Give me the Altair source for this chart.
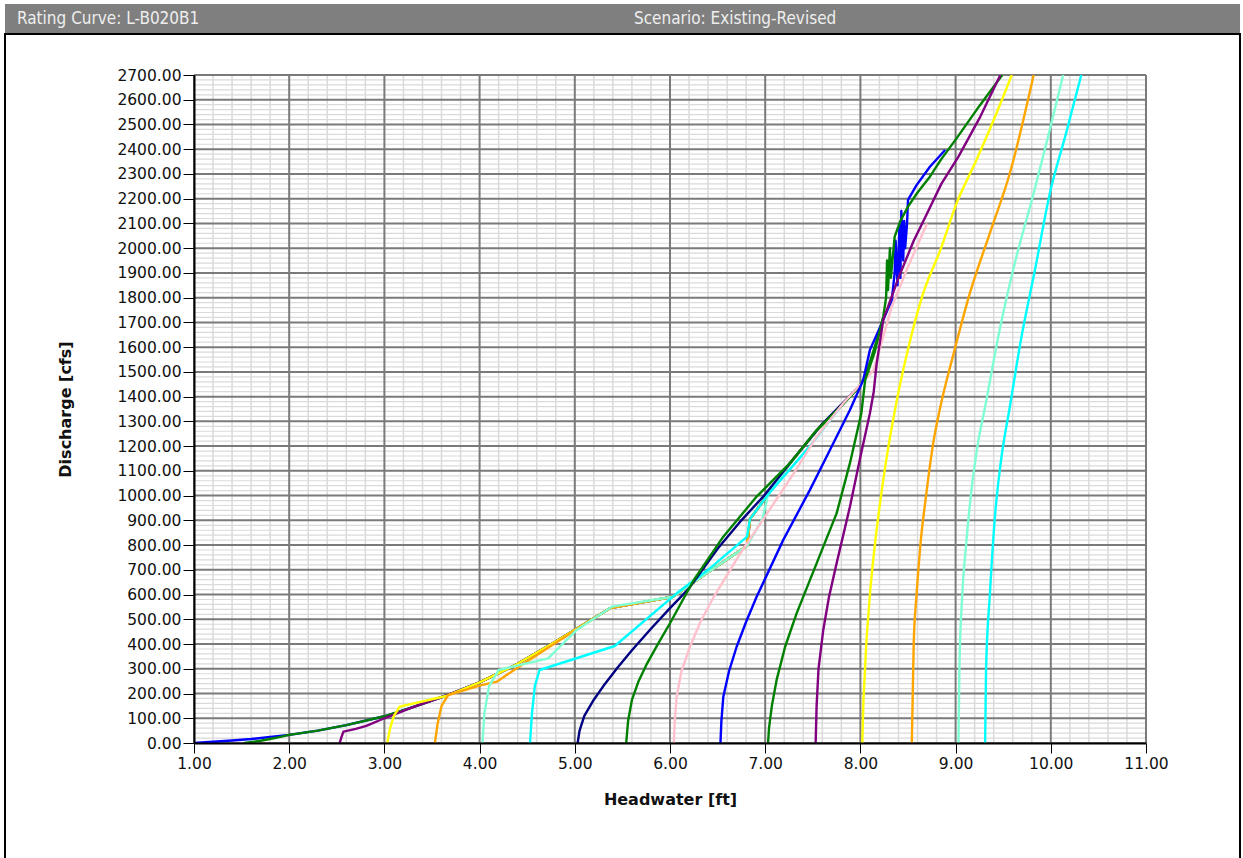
import altair as alt
import pandas as pd

# ---------------- data ----------------
tailwater = [1.00, 1.53, 2.53, 3.03, 3.53, 4.03, 4.53, 5.03, 5.53, 6.03,
             6.53, 7.03, 7.53, 8.03, 8.53, 9.03, 9.30]
line_colors = ["#0000FF", "#008000", "#800080", "#FFFF00", "#FFA500", "#7FFFD4",
               "#00FFFF", "#000080", "#008000", "#FFC0CB", "#0000FF", "#008000",
               "#800080", "#FFFF00", "#FFA500", "#7FFFD4", "#00FFFF"]

hw_01 = [1.00, 1.20, 1.40, 1.60, 1.80, 2.00, 2.30, 2.60, 3.00, 3.30, 3.65, 4.00, 4.40, 4.80, 5.37,
         6.03, 6.40, 6.81, 6.84, 7.02, 7.26, 7.54, 7.79, 7.96]
q_01 = [0, 5, 10, 16, 24, 33, 50, 72, 108, 145, 192, 245, 320, 410, 545,
        591, 690, 797, 905, 1000, 1131, 1262, 1359, 1430]

hw_02 = [1.53, 1.70, 1.85, 2.00, 2.30, 2.60, 3.00, 3.30, 3.65, 4.00, 4.40, 4.80, 5.37,
         6.03, 6.40, 6.81, 6.84, 7.02, 7.26, 7.54, 7.79, 7.96]
q_02 = [0, 9, 20, 33, 50, 72, 108, 145, 192, 245, 320, 410, 545,
        591, 690, 797, 905, 1000, 1131, 1262, 1359, 1430]

hw_03 = [2.53, 2.55, 2.57, 2.70, 2.81, 3.00, 3.20, 3.30, 3.65, 4.00, 4.40, 4.80, 5.37,
         6.03, 6.40, 6.81, 6.84, 7.02, 7.26, 7.54, 7.79, 7.96]
q_03 = [0, 25, 46, 57, 69, 100, 130, 145, 192, 245, 320, 410, 545,
        591, 690, 797, 905, 1000, 1131, 1262, 1359, 1430]

hw_04 = [3.03, 3.06, 3.10, 3.16, 3.65, 4.00, 4.40, 4.80, 5.37,
         6.03, 6.40, 6.81, 6.84, 7.02, 7.26, 7.54, 7.79, 7.96]
q_04 = [0, 60, 110, 147, 190, 245, 320, 410, 545,
        591, 690, 797, 905, 1000, 1131, 1262, 1359, 1430]

hw_05 = [3.53, 3.56, 3.60, 3.67, 4.00, 4.18, 4.39, 4.80, 5.37,
         6.03, 6.40, 6.81, 6.84, 7.02, 7.26, 7.54, 7.79, 7.96]
q_05 = [0, 80, 150, 194, 232, 248, 302, 405, 545,
        591, 690, 797, 905, 1000, 1131, 1262, 1359, 1430]

hw_06 = [4.03, 4.05, 4.10, 4.20, 4.72, 5.02, 5.39, 6.03, 6.40, 6.81, 6.97, 7.03,
         7.26, 7.54, 7.79, 7.96]
q_06 = [0, 120, 230, 295, 342, 457, 551, 591, 690, 797, 905, 1002,
        1131, 1262, 1359, 1430]

hw_07 = [4.53, 4.55, 4.58, 4.63, 5.42, 6.07, 6.40, 6.81, 6.84, 7.02, 7.47, 7.79, 7.96]
q_07 = [0, 120, 230, 295, 392, 605, 700, 834, 905, 1000, 1200, 1359, 1430]

hw_08 = [5.03, 5.05, 5.10, 5.20, 5.30, 5.45, 5.60, 5.80, 6.00, 6.20, 6.50, 6.75, 7.00, 7.30,
         7.60, 7.96]
q_08 = [0, 50, 110, 175, 230, 305, 375, 462, 545, 625, 785, 900, 1005, 1150,
        1290, 1430]

hw_09 = [5.54, 5.56, 5.60, 5.67, 5.76, 5.88, 6.00, 6.25, 6.56, 6.91, 7.26, 7.54, 7.79, 7.96,
         8.05, 8.15, 8.24]
q_09 = [0, 90, 174, 250, 322, 405, 484, 659, 834, 996, 1131, 1265, 1359, 1427,
        1480, 1600, 1720]

hw_10 = [6.04, 6.05, 6.07, 6.12, 6.21, 6.32, 6.46, 6.74, 7.02, 7.30, 7.54, 7.82, 8.14, 8.33,
         8.50, 8.70]
q_10 = [0, 90, 187, 290, 389, 490, 591, 767, 928, 1090, 1238, 1373, 1508, 1764,
        1925, 2100]

hw_11 = [6.53, 6.54, 6.56, 6.62, 6.70, 6.80, 6.91, 7.19, 7.47, 7.68, 7.89, 8.03, 8.10, 8.21,
         8.33, 8.36, 8.37, 8.39, 8.41, 8.42, 8.43, 8.45, 8.46, 8.47, 8.49, 8.50, 8.59, 8.73,
         8.89]
q_11 = [0, 90, 187, 290, 389, 490, 591, 821, 1023, 1184, 1346, 1467, 1589, 1683,
        1791, 1900, 2030, 1850, 2090, 1880, 2150, 1950, 2110, 2000, 2100, 2195, 2255, 2329,
        2397]

hw_12 = [7.03, 7.04, 7.07, 7.12, 7.21, 7.33, 7.54, 7.75, 7.89, 8.01, 8.05, 8.15, 8.24, 8.27,
         8.28, 8.29, 8.31, 8.32, 8.36, 8.42, 8.50, 8.60, 8.73, 8.85, 9.01, 9.25, 9.49]
q_12 = [0, 60, 150, 255, 390, 524, 726, 928, 1131, 1333, 1467, 1580, 1723, 1800,
        1950, 1830, 2000, 1880, 2047, 2110, 2168, 2225, 2289, 2360, 2444, 2575, 2700]

hw_13 = [7.53, 7.54, 7.56, 7.61, 7.67, 7.75, 7.89, 8.00, 8.10, 8.14, 8.17, 8.24, 8.40, 8.56,
         8.70, 8.85, 9.03, 9.26, 9.47]
q_13 = [0, 150, 300, 457, 590, 726, 955, 1157, 1333, 1420, 1530, 1710, 1880, 2030,
        2140, 2260, 2370, 2532, 2700]

hw_14 = [8.02, 8.03, 8.045, 8.06, 8.08, 8.10, 8.15, 8.24, 8.38, 8.49, 8.66, 8.84, 9.01, 9.22,
         9.40, 9.59]
q_14 = [0, 150, 270, 389, 500, 600, 794, 1063, 1380, 1575, 1818, 1993, 2181, 2357,
        2518, 2700]

hw_15 = [8.54, 8.55, 8.56, 8.59, 8.63, 8.69, 8.76, 8.84, 8.98, 9.15, 9.36, 9.57, 9.82]
q_15 = [0, 200, 400, 600, 800, 1000, 1200, 1359, 1575, 1818, 2061, 2303, 2700]

hw_16 = [9.03, 9.04, 9.07, 9.11, 9.16, 9.23, 9.31, 9.47, 9.63, 9.82, 9.98, 10.13]
q_16 = [0, 300, 600, 800, 1000, 1200, 1359, 1683, 1952, 2222, 2464, 2700]

hw_17 = [9.31, 9.32, 9.36, 9.41, 9.48, 9.57, 9.68, 9.84, 9.99, 10.16, 10.32]
q_17 = [0, 300, 600, 900, 1150, 1359, 1616, 1925, 2222, 2464, 2700]

x_ticks = [1, 2, 3, 4, 5, 6, 7, 8, 9, 10, 11]
y_ticks = list(range(0, 2701, 100))
x_minor = [round(1 + 0.2 * i, 1) for i in range(51) if i % 5]
y_minor = [v for v in range(0, 2701, 20) if v % 100]

header_left = "Rating Curve: L-B020B1"
header_right = "Scenario: Existing-Revised"

# ---------------- chart ----------------
W, H = 952, 668
PAD_L, PAD_T = 194, 75
FONT = "DejaVu Sans"
HEAD_FONT = "DejaVu Sans Condensed, Liberation Sans, sans-serif"

xs = alt.Scale(domain=[1, 11], nice=False, zero=False)
ys = alt.Scale(domain=[0, 2700], nice=False, zero=False)

x_axis = alt.Axis(values=x_ticks, format=".2f", title="Headwater [ft]", grid=False,
                  domainColor="black", domainWidth=2, tickColor="black", tickSize=10,
                  labelFont=FONT, labelFontSize=15.5, labelColor="#111111", labelPadding=3,
                  titleFont=FONT, titleFontSize=16, titleFontWeight="bold",
                  titleColor="#111111", titlePadding=20, zindex=1, labelFlush=False)
y_axis = alt.Axis(values=y_ticks, format=".2f", title="Discharge [cfs]", grid=False,
                  domainColor="black", domainWidth=2, tickColor="black", tickSize=11,
                  labelFont=FONT, labelFontSize=15.5, labelColor="#111111", labelPadding=2,
                  titleFont=FONT, titleFontSize=16, titleFontWeight="bold",
                  titleColor="#111111", titlePadding=43, zindex=1, labelFlush=False)

layers = []

# minor grid
layers.append(alt.Chart(pd.DataFrame({"v": x_minor})).mark_rule(color="#dadada", strokeWidth=1.5)
              .encode(x=alt.X("v:Q", scale=xs, axis=x_axis)))
layers.append(alt.Chart(pd.DataFrame({"v": y_minor})).mark_rule(color="#dadada", strokeWidth=1.2)
              .encode(y=alt.Y("v:Q", scale=ys, axis=y_axis)))
# major grid
layers.append(alt.Chart(pd.DataFrame({"v": x_ticks})).mark_rule(color="#7a7a7a", strokeWidth=2)
              .encode(x=alt.X("v:Q", scale=xs, axis=x_axis)))
layers.append(alt.Chart(pd.DataFrame({"v": y_ticks})).mark_rule(color="#7a7a7a", strokeWidth=2)
              .encode(y=alt.Y("v:Q", scale=ys, axis=y_axis)))

curves = [(hw_01, q_01), (hw_02, q_02), (hw_03, q_03), (hw_04, q_04), (hw_05, q_05),
          (hw_06, q_06), (hw_07, q_07), (hw_08, q_08), (hw_09, q_09), (hw_10, q_10),
          (hw_11, q_11), (hw_12, q_12), (hw_13, q_13), (hw_14, q_14), (hw_15, q_15),
          (hw_16, q_16), (hw_17, q_17)]

for k, (hw, q) in enumerate(curves):
    df = pd.DataFrame({"hw": hw, "q": q, "i": list(range(len(hw)))})
    layers.append(
        alt.Chart(df).mark_line(color=line_colors[k], strokeWidth=2.4, clip=True,
                                strokeJoin="round", interpolate="monotone" if k >= 13 else "linear")
        .encode(x=alt.X("hw:Q", scale=xs, axis=x_axis),
                y=alt.Y("q:Q", scale=ys, axis=y_axis),
                order="i:Q")
    )

dummy = pd.DataFrame({"a": [0]})
# header bar
layers.append(alt.Chart(dummy).mark_rect(color="#7f7f7f")
              .encode(x=alt.value(5 - PAD_L), x2=alt.value(1240 - PAD_L),
                      y=alt.value(4 - PAD_T), y2=alt.value(33 - PAD_T)))
# frame
layers.append(alt.Chart(dummy).mark_rect(filled=False, stroke="black", strokeWidth=2)
              .encode(x=alt.value(5 - PAD_L), x2=alt.value(1240 - PAD_L),
                      y=alt.value(34 - PAD_T), y2=alt.value(900 - PAD_T)))
for txt, xpos in [(header_left, 17), (header_right, 634)]:
    layers.append(alt.Chart(dummy).mark_text(align="left", baseline="middle",
                                             font=HEAD_FONT, fontSize=17,
                                             color="#eeeeee")
                  .encode(x=alt.value(xpos - PAD_L), y=alt.value(19 - PAD_T),
                          text=alt.value(txt)))

chart = alt.layer(*layers).properties(
    width=W, height=H,
    autosize=alt.AutoSizeParams(type="none"),
    padding={"left": PAD_L, "top": PAD_T, "right": 1243 - PAD_L - W, "bottom": 858 - PAD_T - H},
    background="white",
).configure_view(stroke=None)

chart.save("out.html", embed_options={"renderer": "svg", "actions": False})
